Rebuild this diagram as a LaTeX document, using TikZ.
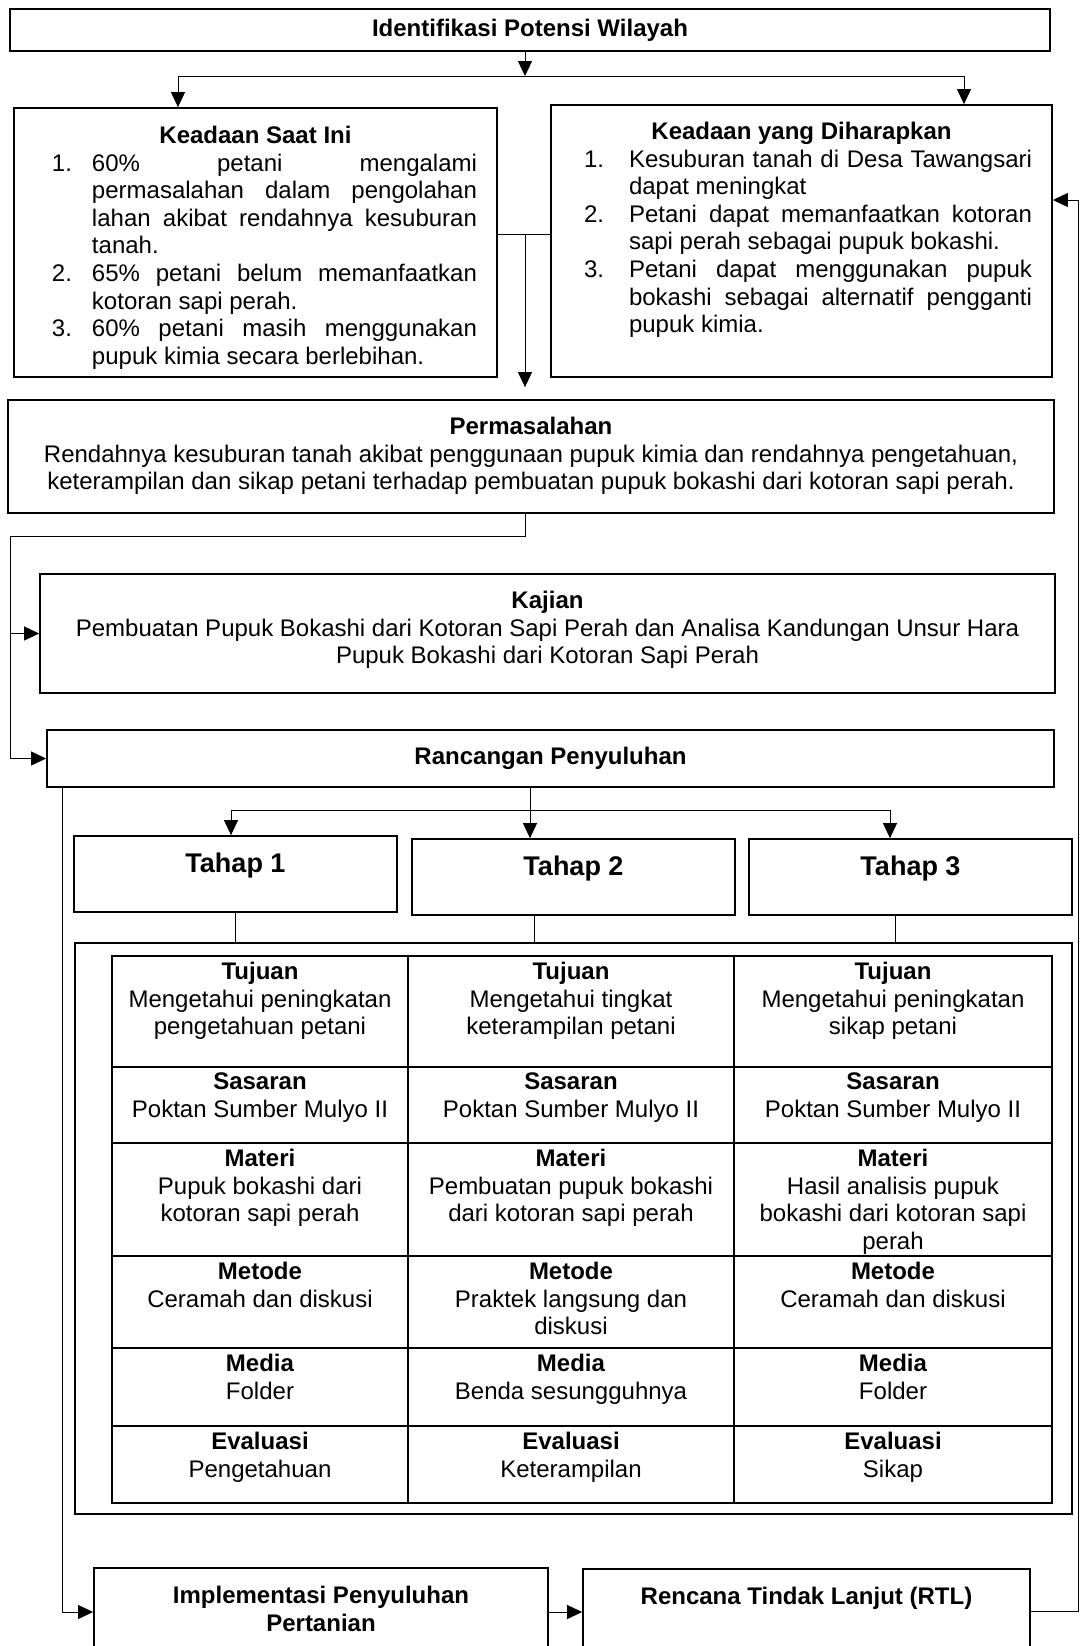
\documentclass[tikz,border=0pt]{standalone}
\usepackage{fontspec}
\setmainfont{Liberation Sans}
\usetikzlibrary{arrows.meta}
\newcommand{\isi}[4]{\parbox[c][#2][t]{#1}{\vspace*{#3}\centering #4}}
\newcommand{\butir}[3][20pt]{\par\hangindent=#1\hangafter=1\noindent\makebox[#1][l]{#2}#3\par}
\hbadness=10000

\begin{document}
\begin{tikzpicture}[x=0.5pt, y=-0.5pt,
    font=\fontsize{12pt}{13.8pt}\selectfont,
    kotak/.style={draw=black, line width=0.9pt, inner sep=0pt},
    garis/.style={line width=0.5pt, draw=black},
    panah/.style={-{Triangle[length=7.5pt,width=7pt]}, line width=0.5pt, draw=black}
  ]
    \useasboundingbox (0,0) rectangle (1080,1646);
    \node[kotak, minimum width=520pt, minimum height=21pt] (identifikasi) at (530,30) {\textbf{Identifikasi Potensi Wilayah}};
    \node[kotak] (saatini) at (255.5,242.5) {\isi{241.5pt}{134.5pt}{9pt}{\textbf{Keadaan Saat Ini}\par
      \leftskip=19pt \rightskip=10pt \parfillskip=0pt plus 1fil
      \butir{1.}{60\% petani mengalami\linebreak permasalahan dalam pengolahan\linebreak lahan akibat rendahnya kesuburan\linebreak tanah.}
      \butir{2.}{65\% petani belum memanfaatkan\linebreak kotoran sapi perah.}
      \butir{3.}{60\% petani masih menggunakan\linebreak pupuk kimia secara berlebihan.}}};
    \node[kotak] (harapan) at (801.5,241) {\isi{250.5pt}{136pt}{8.5pt}{\textbf{Keadaan yang Diharapkan}\par
      \leftskip=16.5pt \rightskip=10pt \parfillskip=0pt plus 1fil
      \butir[22.5pt]{1.}{Kesuburan tanah di Desa Tawangsari\linebreak dapat meningkat}
      \butir[22.5pt]{2.}{Petani dapat memanfaatkan kotoran\linebreak sapi perah sebagai pupuk bokashi.}
      \butir[22.5pt]{3.}{Petani dapat menggunakan pupuk\linebreak bokashi sebagai alternatif pengganti\linebreak pupuk kimia.}}};
    \node[kotak] (permasalahan) at (531,456.5) {\isi{523pt}{56.5pt}{8.5pt}{\textbf{Permasalahan}\\Rendahnya kesuburan tanah akibat penggunaan pupuk kimia dan rendahnya pengetahuan,\\keterampilan dan sikap petani terhadap pembuatan pupuk bokashi dari kotoran sapi perah.}};
    \node[kotak] (kajian) at (547.5,633.5) {\isi{507.5pt}{59.5pt}{8.5pt}{\textbf{Kajian}\\Pembuatan Pupuk Bokashi dari Kotoran Sapi Perah dan Analisa Kandungan Unsur Hara\\Pupuk Bokashi dari Kotoran Sapi Perah}};
    \node[kotak, minimum width=503.5pt, minimum height=28.5pt] (rancangan) at (550.5,758.5) {\textbf{Rancangan Penyuluhan}};

    % tahap penyuluhan
    \node[kotak] (tahap1) at (235.5,874) {\isi{161.5pt}{38pt}{8.5pt}{\fontsize{13.5pt}{16pt}\selectfont\bfseries Tahap 1}};
    \node[kotak] (tahap2) at (573.5,877) {\isi{161.5pt}{38pt}{8.5pt}{\fontsize{13.5pt}{16pt}\selectfont\bfseries Tahap 2}};
    \node[kotak] (tahap3) at (910.5,877) {\isi{161.5pt}{38pt}{8.5pt}{\fontsize{13.5pt}{16pt}\selectfont\bfseries Tahap 3}};
    \node[kotak, minimum width=498.5pt, minimum height=285.5pt] (luar) at (573.5,1228.5) {};

    % tabel rancangan
    \node[kotak] (tujuan1) at (260,1011.5) {\isi{148pt}{55.5pt}{3pt}{\textbf{Tujuan}\\Mengetahui peningkatan\\pengetahuan petani}};
    \node[kotak] (tujuan2) at (571,1011.5) {\isi{163pt}{55.5pt}{3pt}{\textbf{Tujuan}\\Mengetahui tingkat\\keterampilan petani}};
    \node[kotak] (tujuan3) at (893,1011.5) {\isi{159pt}{55.5pt}{3pt}{\textbf{Tujuan}\\Mengetahui peningkatan\\sikap petani}};
    \node[kotak] (sasaran1) at (260,1105) {\isi{148pt}{38pt}{3pt}{\textbf{Sasaran}\\Poktan Sumber Mulyo II}};
    \node[kotak] (sasaran2) at (571,1105) {\isi{163pt}{38pt}{3pt}{\textbf{Sasaran}\\Poktan Sumber Mulyo II}};
    \node[kotak] (sasaran3) at (893,1105) {\isi{159pt}{38pt}{3pt}{\textbf{Sasaran}\\Poktan Sumber Mulyo II}};
    \node[kotak] (materi1) at (260,1199.5) {\isi{148pt}{56.5pt}{3pt}{\textbf{Materi}\\Pupuk bokashi dari\\kotoran sapi perah}};
    \node[kotak] (materi2) at (571,1199.5) {\isi{163pt}{56.5pt}{3pt}{\textbf{Materi}\\Pembuatan pupuk bokashi\\dari kotoran sapi perah}};
    \node[kotak] (materi3) at (893,1199.5) {\isi{159pt}{56.5pt}{3pt}{\textbf{Materi}\\Hasil analisis pupuk\\bokashi dari kotoran sapi\\perah}};
    \node[kotak] (metode1) at (260,1302) {\isi{148pt}{46pt}{3pt}{\textbf{Metode}\\Ceramah dan diskusi}};
    \node[kotak] (metode2) at (571,1302) {\isi{163pt}{46pt}{3pt}{\textbf{Metode}\\Praktek langsung dan\\diskusi}};
    \node[kotak] (metode3) at (893,1302) {\isi{159pt}{46pt}{3pt}{\textbf{Metode}\\Ceramah dan diskusi}};
    \node[kotak] (media1) at (260,1387) {\isi{148pt}{39pt}{3pt}{\textbf{Media}\\Folder}};
    \node[kotak] (media2) at (571,1387) {\isi{163pt}{39pt}{3pt}{\textbf{Media}\\Benda sesungguhnya}};
    \node[kotak] (media3) at (893,1387) {\isi{159pt}{39pt}{3pt}{\textbf{Media}\\Folder}};
    \node[kotak] (evaluasi1) at (260,1464.5) {\isi{148pt}{38.5pt}{3pt}{\textbf{Evaluasi}\\Pengetahuan}};
    \node[kotak] (evaluasi2) at (571,1464.5) {\isi{163pt}{38.5pt}{3pt}{\textbf{Evaluasi}\\Keterampilan}};
    \node[kotak] (evaluasi3) at (893,1464.5) {\isi{159pt}{38.5pt}{3pt}{\textbf{Evaluasi}\\Sikap}};

    \node[kotak] (implementasi) at (321,1612) {\isi{227pt}{44pt}{9pt}{\bfseries Implementasi Penyuluhan\\Pertanian}};
    \node[kotak] (rtl) at (806.5,1611) {\isi{223.5pt}{42pt}{9pt}{\bfseries Rencana Tindak Lanjut (RTL)}};

    % alur
    \coordinate (cabang) at (525,76);
    \coordinate (temu) at (525,234);
    \coordinate (kiri) at (10,536);
    \coordinate (cabang2) at (530,810);
    \coordinate (balik) at (1078,200);

    \draw[panah] (cabang |- identifikasi.south) -- (cabang);
    \draw[panah] (cabang) -| ([xshift=-38.75pt]saatini.north);
    \draw[panah] (cabang) -| ([xshift=81.25pt]harapan.north);
    \draw[garis] (saatini.east |- temu) -- (harapan.west |- temu);
    \draw[panah, shorten >=6pt] (temu) -- (temu |- permasalahan.north);
    \draw[garis] (temu |- permasalahan.south) |- (kiri);
    \draw[panah] (kiri) |- (rancangan.west);
    \draw[panah] (kiri |- kajian.west) -- (kajian.west);
    \draw[panah] ([xshift=8pt]rancangan.south west) |- (implementasi.west);
    \draw[panah] (cabang2 |- rancangan.south) -- (cabang2 |- tahap2.north);
    \draw[panah] (cabang2) -| ([xshift=-2.25pt]tahap1.north);
    \draw[panah] (cabang2) -| ([xshift=-10.25pt]tahap3.north);
    \draw[garis] (tahap1.south) -- (tahap1.south |- luar.north);
    \draw[garis] ([xshift=-19.75pt]tahap2.south) -- ([xshift=-19.75pt]tahap2.south |- luar.north);
    \draw[garis] ([xshift=-7.75pt]tahap3.south) -- ([xshift=-7.75pt]tahap3.south |- luar.north);
    \draw[panah] (implementasi.east) -- (implementasi.east -| rtl.west);
    \draw[panah] (rtl.east) -| (balik) -- (balik -| harapan.east);
  \end{tikzpicture}
\end{document}
